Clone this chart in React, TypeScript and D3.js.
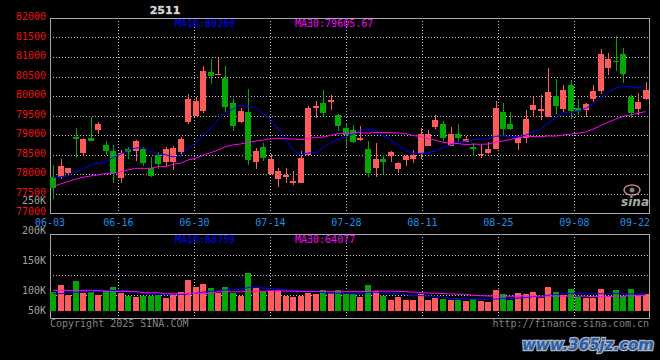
import React from "react";
import * as d3 from "d3";

const W = 660;
const H = 360;

// ---- data ----
const opens = [77930, 77915, 78035, 78950, 78545, 78925, 79130, 78745, 78590, 77890,
  78640, 78590, 78635, 78160, 78485, 78315, 78315, 78575, 79340, 79485,
  79615, 80615, 80560, 80470, 79830, 79335, 79600, 78315, 78690, 78000,
  77870, 77930, 77770, 77780, 78485, 79700, 79830, 79845, 79505, 79180,
  79130, 78870, 78640, 78160, 78385, 78460, 78135, 78360, 78385, 78530,
  78720, 79215, 79280, 78720, 79025, 78830, 78700, 78485, 78545, 78650,
  79590, 79280, 78805, 78915, 79640, 79615, 79455, 80000, 79665, 80280,
  79685, 79640, 79925, 80130, 80725, 80900, 81075, 79965, 79665, 79925];
const highs = [78230, 78385, 78160, 79170, 78930, 79455, 79335, 78845, 78745, 78615,
  78700, 78870, 78685, 78445, 78565, 78685, 78720, 78940, 80050, 79985,
  80770, 80950, 80990, 80770, 79940, 79685, 80180, 78675, 78795, 78505,
  78145, 78145, 78075, 78590, 79750, 79870, 80155, 80025, 79540, 79315,
  79255, 79230, 78845, 78785, 78485, 78590, 78310, 78495, 78615, 79190,
  79130, 79515, 79360, 79195, 79280, 78975, 78785, 78760, 78830, 79870,
  79810, 79590, 78975, 79640, 79985, 80025, 80720, 80435, 80280, 80410,
  79925, 79830, 80280, 81205, 81095, 81540, 81220, 80025, 80070, 80365];
const lows = [77350, 77865, 77950, 78400, 78470, 78855, 79015, 78485, 77780, 77780,
  78395, 78340, 78215, 77915, 78135, 78190, 78105, 78485, 79280, 79485,
  79575, 80310, 80560, 79600, 79110, 79300, 78230, 78130, 78340, 78000,
  77675, 77780, 77720, 77780, 78485, 79445, 79485, 79640, 79110, 78700,
  78785, 78845, 77930, 77930, 78000, 78315, 78035, 78215, 78290, 78385,
  78720, 79145, 78845, 78720, 78830, 78810, 78460, 78420, 78515, 78650,
  78990, 79130, 78615, 78805, 79455, 79385, 79455, 79530, 79600, 79400,
  79515, 79455, 79855, 80050, 80540, 80650, 80340, 79425, 79515, 79895];
const closes = [77635, 78205, 78160, 78895, 78905, 78855, 79280, 78590, 78015, 78530,
  78575, 78845, 78290, 77960, 78255, 78640, 78665, 78895, 79915, 79870,
  80640, 80515, 80565, 79725, 79230, 79615, 78360, 78590, 78420, 78385,
  78075, 77985, 77820, 78420, 79700, 79750, 79575, 79895, 79230, 79000,
  78830, 78925, 78015, 78385, 78315, 78565, 78275, 78460, 78485, 79025,
  79025, 79385, 78930, 79015, 78930, 78895, 78630, 78520, 78640, 79690,
  79160, 79155, 78930, 79410, 79770, 79665, 80105, 79745, 80155, 79625,
  79615, 79785, 80130, 81075, 80950, 80880, 80565, 79575, 79855, 80155];
const volumes = [77900, 107100, 65400, 123800, 73800, 79200, 65400, 86300, 98800, 75000,
  62500, 57100, 62500, 61300, 65400, 55400, 69600, 77900, 127900, 98800,
  111300, 94600, 75000, 98800, 75000, 62500, 158300, 97100, 83300, 83300,
  83300, 61300, 58300, 63800, 75000, 72100, 86300, 75000, 86300, 69600,
  69600, 58300, 107100, 82100, 63800, 44600, 58300, 44600, 44600, 72100,
  44600, 52900, 50000, 47100, 44600, 41700, 50000, 41700, 37500, 86300,
  69600, 47100, 73800, 69600, 77900, 55400, 98800, 77900, 65400, 90400,
  58300, 52900, 52900, 90400, 63800, 86300, 61300, 90400, 63800, 69600];

// moving-average values before enough visible history
const ma10Early = [77905, 77930, 77950, 78060, 78145, 78230, 78275, 78315, 78420];
const ma30Early = [77675, 77745, 77805, 77865, 77915, 77950, 77975, 78015, 78015, 78045,
  78105, 78145, 78145, 78145, 78190, 78190, 78250, 78275, 78360, 78400,
  78485, 78545, 78615, 78700, 78745, 78770, 78810, 78845, 78870];
const volMa10Early = [72000, 73000, 75000, 78000, 80000, 80000, 82000, 84000, 85000];
const volMa30Early = [86000, 86000, 86000, 86000, 86000, 86000, 86000, 81000, 81000, 81000,
  81000, 81000, 76000, 76000, 76000, 72000, 72000, 72000, 73000, 73000,
  73000, 73000, 80000, 80000, 80000, 80000, 82000, 82000, 82000];

const priceTicks = [82000, 81500, 81000, 80500, 80000, 79500, 79000, 78500, 78000, 77500, 77000];
const volTicks = [250000, 200000, 150000, 100000, 50000];
const volTickLabels = ["250K", "200K", "150K", "100K", "50K"];
const dateTickIdx = [0, 9, 19, 29, 39, 49, 59, 69, 79];
const dateTickLabels = ["06-03", "06-16", "06-30", "07-14", "07-28", "08-11", "08-25", "09-08", "09-22"];
const title = "2511";
const mainLegend = ["MA10:80260", "MA30:79605.67"];
const volLegend = ["MA10:68759", "MA30:64077"];
const copyright = "Copyright 2025 SINA.COM";
const siteUrl = "http://finance.sina.com.cn";
const watermark = "www.365jz.com";

// ---- styles ----
const RED = "#ff5b5b";
const GREEN = "#00a800";
const BLUE = "#0000ff";
const MAGENTA = "#ff00ff";
const GRID = "#c0c0c0";
const FRAME = "#a8a8a8";
const MONO = "'DejaVu Sans Mono', monospace";

function movingAvg(vals: number[], n: number, early: number[]) {
  return vals.map((v, i) => (i < early.length ? early[i] : (d3.mean(vals.slice(i - n + 1, i + 1)) as number)));
}

export default function App() {
  const left = 50, right = 650;
  const mainTop = 18, mainBottom = 213;
  const volTop = 234, volBottom = 318, volBase = 311;
  const n = closes.length;

  const slot = d3.scaleLinear().domain([0, n]).range([left, right]);
  const gridX = d3.scaleLinear().domain([0, n - 1]).range([left, right + 0.4]);
  const y = d3.scaleLinear().domain([77000, 82000]).range([mainBottom, mainTop]);
  const yv = d3.scaleLinear().domain([0, 250000]).range([volBase, volBase - 60]);
  const yvLabel = d3.scaleLinear().domain([100000, 250000]).range([290.5, 200.5]);

  const cx = (i: number) => slot(i) + 3;
  const ma10 = movingAvg(closes, 10, ma10Early);
  const ma30 = movingAvg(closes, 30, ma30Early);
  const vma10 = movingAvg(volumes, 10, volMa10Early);
  const vma30 = movingAvg(volumes, 30, volMa30Early);

  const priceLine = d3.line<number>().x((_, i) => cx(i)).y((d) => y(d));
  const volLine = d3.line<number>().x((_, i) => cx(i)).y((d) => yv(d));

  const dots = { stroke: GRID, strokeWidth: 1, strokeDasharray: "1 2" } as const;

  return (
    <svg width={W} height={H} style={{ position: "absolute", left: 0, top: 0, display: "block" }}>
      <rect x={0} y={0} width={W} height={H} fill="#000" />

      {/* title */}
      <text x={165} y={14} textAnchor="middle" fontFamily="'DejaVu Sans', sans-serif" fontSize={11} fontWeight="bold" fill="#d8d8d8" stroke="#777" strokeWidth={0.6} paintOrder="stroke">{title}</text>

      {/* main grid */}
      {priceTicks.slice(1, -1).map((v) => (
        <line key={"hg" + v} x1={left} x2={right} y1={Math.round(y(v)) + 0.5} y2={Math.round(y(v)) + 0.5} {...dots} />
      ))}
      {dateTickIdx.slice(1, -1).map((idx) => (
        <g key={"vg" + idx}>
          <line x1={Math.round(gridX(idx)) + 0.5} x2={Math.round(gridX(idx)) + 0.5} y1={mainTop} y2={mainBottom} {...dots} />
          <line x1={Math.round(gridX(idx)) + 0.5} x2={Math.round(gridX(idx)) + 0.5} y1={volTop} y2={volBottom + 2} {...dots} />
        </g>
      ))}
      {[255, 275, 295].map((gy) => (
        <line key={"vh" + gy} x1={left} x2={right} y1={gy + 0.5} y2={gy + 0.5} {...dots} />
      ))}

      {/* frames */}
      <g fill="none" stroke={FRAME} strokeWidth={1}>
        <line x1={left} x2={right} y1={mainTop + 0.5} y2={mainTop + 0.5} />
        <line x1={left} x2={right} y1={mainBottom + 0.5} y2={mainBottom + 0.5} />
        <line x1={left + 0.5} x2={left + 0.5} y1={mainTop} y2={mainBottom} />
        <line x1={right - 0.5} x2={right - 0.5} y1={mainTop} y2={mainBottom + 1} />
        <line x1={left} x2={right} y1={volTop + 0.5} y2={volTop + 0.5} />
        <line x1={left} x2={right} y1={volBottom + 0.5} y2={volBottom + 0.5} />
        <line x1={left + 0.5} x2={left + 0.5} y1={volTop} y2={volBottom} />
        <line x1={right - 0.5} x2={right - 0.5} y1={volTop} y2={volBottom + 1} />
      </g>

      {/* candles */}
      {closes.map((c, i) => {
        const o = opens[i];
        const col = c >= o ? RED : GREEN;
        const top = y(Math.max(o, c));
        const bot = y(Math.min(o, c));
        const x0 = Math.round(slot(i));
        return (
          <g key={"c" + i} shapeRendering="crispEdges">
            <rect x={x0 + 2.5} y={y(highs[i])} width={1} height={Math.max(1, y(lows[i]) - y(highs[i]))} fill={col} />
            <rect x={x0} y={top} width={6} height={Math.max(1, bot - top)} fill={col} />
          </g>
        );
      })}
      <path d={priceLine(ma10) || ""} fill="none" stroke={BLUE} strokeWidth={1} />
      <path d={priceLine(ma30) || ""} fill="none" stroke={MAGENTA} strokeWidth={1} />

      {/* volume */}
      {volumes.map((v, i) => (
        <rect key={"v" + i} x={Math.round(slot(i))} y={yv(v)} width={6} height={volBase - yv(v)} fill={closes[i] >= opens[i] ? RED : GREEN} shapeRendering="crispEdges" />
      ))}
      <path d={volLine(vma10) || ""} fill="none" stroke={BLUE} strokeWidth={1} />
      <path d={volLine(vma30) || ""} fill="none" stroke={MAGENTA} strokeWidth={1} />

      {/* legends */}
      <g fontFamily={MONO} fontSize={10}>
        <text x={175} y={27} fill={BLUE}>{mainLegend[0]}</text>
        <text x={295} y={27} fill={MAGENTA}>{mainLegend[1]}</text>
        <text x={175} y={243} fill={BLUE}>{volLegend[0]}</text>
        <text x={295} y={243} fill={MAGENTA}>{volLegend[1]}</text>
      </g>

      {/* axes labels */}
      <g fontFamily={MONO} fontSize={10}>
        {priceTicks.map((v) => (
          <text key={"pl" + v} x={46} y={y(v) + 2} textAnchor="end" fill="#f01010">{v}</text>
        ))}
        {volTicks.map((v, k) => (
          <text key={"vl" + v} x={46} y={Math.min(yvLabel(v), volBottom - 7.5) + 3.6} textAnchor="end" fill="#a0a0a0">{volTickLabels[k]}</text>
        ))}
        {dateTickIdx.map((idx, k) => (
          <text key={"dl" + idx} x={k === dateTickIdx.length - 1 ? right : gridX(idx)} y={226} textAnchor={k === dateTickIdx.length - 1 ? "end" : "middle"} fill="#1e8ee6">{dateTickLabels[k]}</text>
        ))}
        <text x={left} y={327} fill="#808080">{copyright}</text>
        <text x={right - 1} y={327} textAnchor="end" fill="#808080">{siteUrl}</text>
      </g>

      {/* sina logo watermark */}
      <g opacity={0.85}>
        <ellipse cx={632} cy={190} rx={8} ry={5} fill="none" stroke="#e8a0a0" strokeWidth={1.5} />
        <circle cx={632} cy={190} r={2.5} fill="#999" />
        <text x={649} y={206} textAnchor="end" fontFamily="'DejaVu Sans', sans-serif" fontStyle="italic" fontWeight="bold" fontSize={12} fill="#c8c8c8">sina</text>
      </g>

      {/* site watermark */}
      <text x={654} y={350} textAnchor="end" fontFamily="'DejaVu Sans', sans-serif" fontStyle="italic" fontWeight="bold" fontSize={15} fill="#2b5ea8" stroke="#aab2c0" strokeWidth={2.5} paintOrder="stroke">{watermark}</text>
    </svg>
  );
}
